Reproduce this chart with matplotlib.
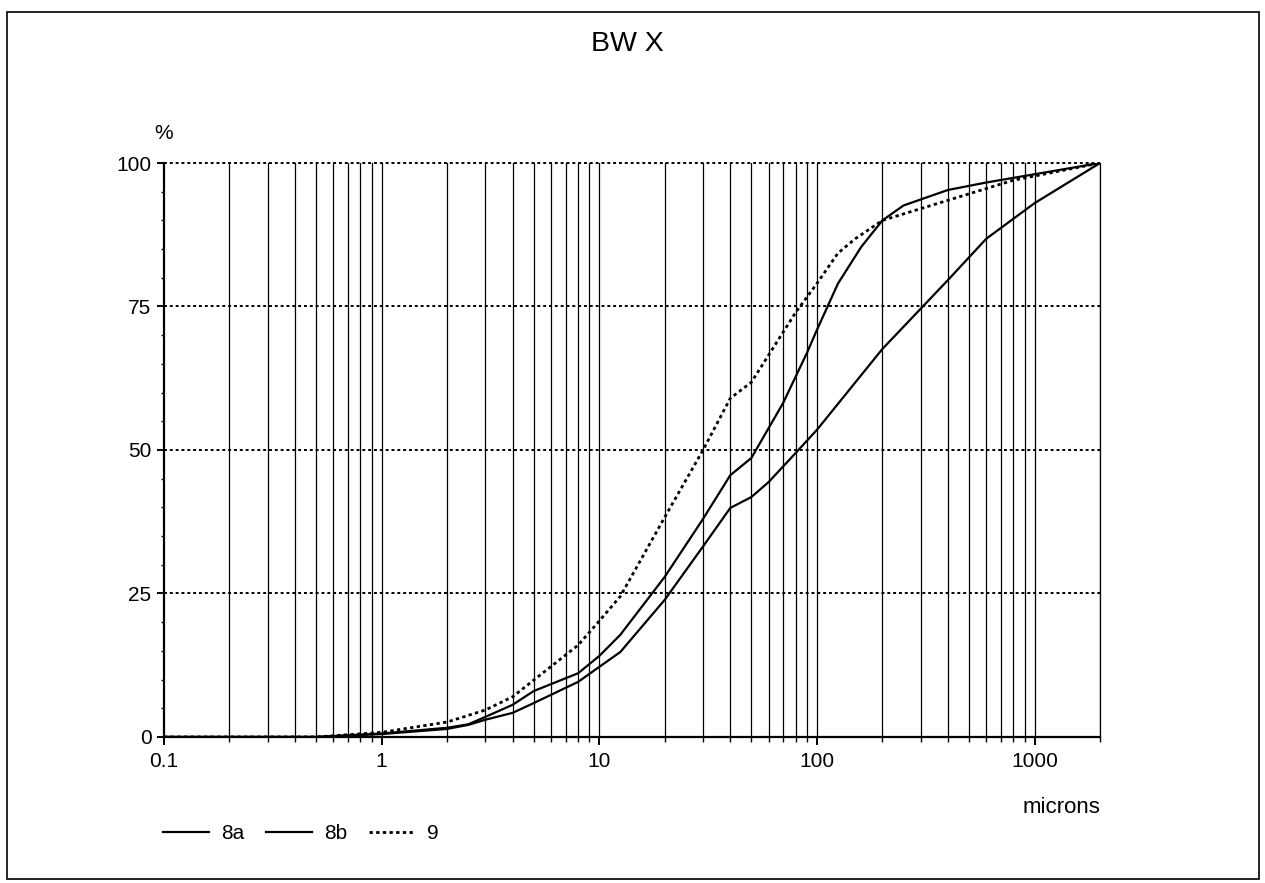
import matplotlib
matplotlib.use("Agg")
import matplotlib.pyplot as plt
from matplotlib.lines import Line2D
from matplotlib.patches import Rectangle
from matplotlib.ticker import FixedLocator, NullFormatter

plt.rcParams["font.family"] = ["Liberation Sans", "DejaVu Sans"]

# particle size (microns) vs cumulative %
size_8a = [0.1, 0.5, 1, 2, 2.5, 3, 4, 5, 8, 10, 12.5, 20, 30, 40, 50, 70,
           90, 100, 125, 160, 200, 250, 400, 600, 2000]
pct_8a = [0, 0, 0.6, 1.6, 2.2, 3.5, 5.6, 8.0, 11.1, 14.1, 17.8, 27.9, 38.0,
          45.6, 48.6, 58.2, 66.9, 70.9, 79.0, 85.4, 90.0, 92.6, 95.3, 96.6, 100]

size_8b = [0.1, 0.5, 1, 2, 2.5, 3, 4, 5, 8, 10, 12.5, 20, 30, 40, 50, 60,
           80, 100, 200, 400, 600, 1000, 2000]
pct_8b = [0, 0, 0.5, 1.4, 2.1, 3.0, 4.2, 5.9, 9.6, 12.2, 14.8, 23.9, 33.2,
          39.9, 41.8, 44.4, 49.5, 53.5, 67.6, 79.6, 86.8, 93.0, 100]

size_9 = [0.1, 0.5, 1, 2, 3, 4, 5, 8, 10, 12.5, 20, 30, 40, 50, 80, 100,
          125, 150, 200, 400, 800, 2000]
pct_9 = [0, 0, 0.8, 2.6, 4.7, 7.0, 9.9, 16.0, 20.2, 24.5, 38.3, 50.0, 59.0,
         61.8, 74.0, 79.0, 84.3, 86.8, 90.0, 93.5, 97.0, 100]

y_grid = [25, 50, 75, 100]
x_major = [0.1, 1, 10, 100, 1000]
x_labels = ["0.1", "1", "10", "100", "1000"]
x_minor = [m * d for d in (0.1, 1, 10, 100) for m in range(2, 10)] + [2000]

fig = plt.figure(figsize=(12.65, 8.83), dpi=100)
ax = fig.add_axes([0.1296, 0.1654, 0.74, 0.65])

# vertical grid: solid thin lines at every decade subdivision
for xv in x_minor + x_major[1:]:
    ax.axvline(xv, ymin=0, ymax=1, color="black", lw=0.9, zorder=1)
for yv in y_grid:
    ax.axhline(yv, color="black", lw=1.4, ls=(0, (1.5, 1.5)), zorder=1,
               clip_on=False)

ax.plot(size_8a, pct_8a, color="black", lw=1.6, zorder=3)
ax.plot(size_8b, pct_8b, color="black", lw=1.6, zorder=3)
ax.plot(size_9, pct_9, color="black", lw=2.0, ls=(0, (1.2, 1.2)), zorder=3)

ax.set_xscale("log")
ax.set_xlim(0.1, 2000)
ax.set_ylim(0, 100)
ax.spines["top"].set_visible(False)
ax.spines["right"].set_linewidth(0.9)
ax.spines["left"].set_linewidth(1.6)
ax.spines["bottom"].set_linewidth(1.6)

ax.xaxis.set_major_locator(FixedLocator(x_major))
ax.set_xticklabels(x_labels)
ax.xaxis.set_minor_locator(FixedLocator(x_minor))
ax.xaxis.set_minor_formatter(NullFormatter())
ax.set_yticks([0, 25, 50, 75, 100])
ax.set_yticks(range(0, 101, 5), minor=True)
ax.tick_params(axis="x", which="major", direction="out", length=6, width=1.4,
               labelsize=15, pad=5)
ax.tick_params(axis="x", which="minor", direction="out", length=3.6, width=1.0)
ax.tick_params(axis="y", which="major", direction="out", length=5, width=1.4,
               labelsize=15, pad=4)
ax.tick_params(axis="y", which="minor", direction="out", length=2.5, width=1.0)

ax.text(0.0, 1.035, "%", transform=ax.transAxes, ha="center", va="bottom",
        fontsize=15)
ax.text(1.0, -0.105, "microns", transform=ax.transAxes, ha="right",
        va="top", fontsize=16)
fig.text(0.496, 0.95, "BW X", ha="center", va="center", fontsize=20.5)

handles = [Line2D([], [], color="black", lw=1.6),
           Line2D([], [], color="black", lw=1.6),
           Line2D([], [], color="black", lw=2.0, ls=(0, (1.2, 1.2)))]
ax.legend(handles, ["8a", "8b", "9"], loc="center left",
          bbox_to_anchor=(-0.021, -0.168), ncol=3, frameon=False,
          fontsize=15, handlelength=2.2, handletextpad=0.58,
          columnspacing=1.05)

# page frame
fig.add_artist(Rectangle((0.0055, 0.005), 0.9895, 0.981,
                         transform=fig.transFigure, fill=False,
                         edgecolor="black", lw=1.2))

fig.savefig("out.png", dpi=100)
